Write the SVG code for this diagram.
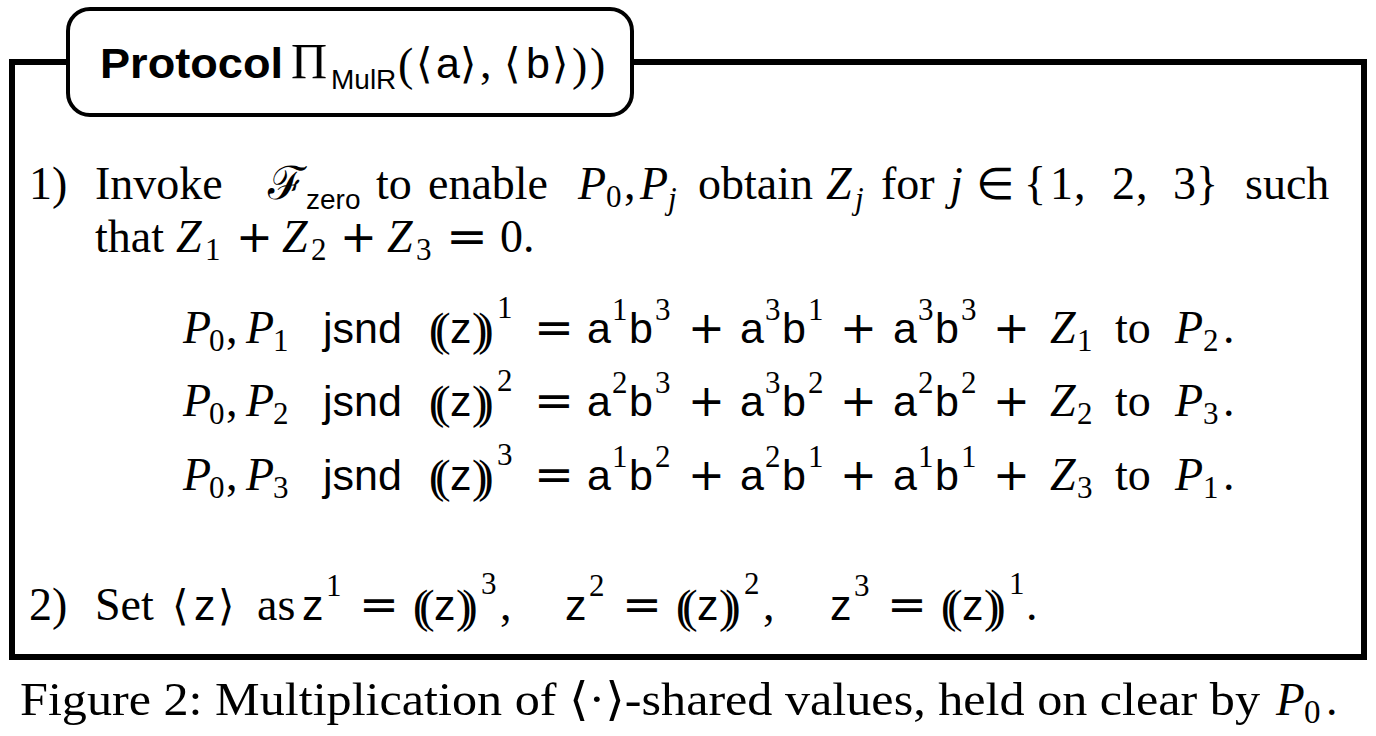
<svg xmlns="http://www.w3.org/2000/svg" width="1376" height="736" viewBox="0 0 1376 736">
<style>
text{fill:#000}
.rm{font-family:"Liberation Serif","DejaVu Serif",serif;font-size:46px}
.mi{font-family:"Liberation Serif","DejaVu Serif",serif;font-style:italic;font-size:46px}
.sf{font-family:"Liberation Sans","DejaVu Sans",sans-serif;font-size:43px}
.sfs{font-family:"Liberation Sans","DejaVu Sans",sans-serif;font-size:28px}
.sb{font-family:"Liberation Serif","DejaVu Serif",serif;font-size:31px}
.sbi{font-family:"Liberation Serif","DejaVu Serif",serif;font-style:italic;font-size:31px}
.op{font-family:"DejaVu Sans",sans-serif;font-size:44px}
.br{font-family:"DejaVu Serif",serif;font-size:42px}
.pp{font-family:"Liberation Serif","DejaVu Serif",serif;font-size:46px}
.dp{font-family:"Liberation Serif","DejaVu Serif",serif;font-size:46px;letter-spacing:-9px}
.frame{fill:none;stroke:#000;stroke-width:6}
</style>
<rect width="1376" height="736" fill="#fff"/>
<g id="frame">
<path class="frame" d="M68,62 H12 V657 H1364 V62 H632"/>
</g>
<g id="title">
<rect x="68" y="9" width="564" height="106" rx="22" ry="22" fill="#fff" stroke="#000" stroke-width="4"/>
<text x="100" y="78" font-family="Liberation Sans, Arial, sans-serif" font-weight="bold" font-size="42" textLength="183" lengthAdjust="spacingAndGlyphs">Protocol</text>
<text x="291" y="78" class="rm" style="font-size:50px">Π</text>
<text x="331" y="89" class="sfs">MulR</text>
<text x="398" y="80" class="pp">(</text>
<text x="416" y="78" class="br">⟨</text>
<text x="436" y="78" class="sf">a</text>
<text x="460" y="78" class="br">⟩</text>
<text x="480" y="78" class="rm">,</text>
<text x="504" y="78" class="br">⟨</text>
<text x="526" y="78" class="sf">b</text>
<text x="552" y="78" class="br">⟩</text>
<text x="572" y="80" class="pp">)</text>
<text x="590" y="80" class="pp">)</text>
</g>
<g id="step1">
<text x="29" y="199" class="rm">1)</text>
<text x="95" y="199" class="rm">Invoke</text>
<text x="268" y="199" class="br" style="font-size:46px">ℱ</text>
<text x="306" y="209" class="sfs">zero</text>
<text x="376" y="199" class="rm">to</text>
<text x="428" y="199" class="rm">enable</text>
<text x="578" y="199" class="mi">P</text><text x="606" y="207" class="sb">0</text>
<text x="624" y="199" class="rm">,</text>
<text x="640" y="199" class="mi">P</text><text x="668" y="209" class="sbi">j</text>
<text x="698" y="199" class="rm">obtain</text>
<text x="826" y="199" class="mi">Z</text><text x="855" y="209" class="sbi">j</text>
<text x="881" y="199" class="rm">for</text>
<text x="950" y="199" class="mi">j</text>
<text x="976" y="199" class="op">∈</text>
<text x="1024" y="199" class="rm">{</text>
<text x="1050" y="199" class="rm">1</text>
<text x="1074" y="199" class="rm">,</text>
<text x="1112" y="199" class="rm">2</text>
<text x="1136" y="199" class="rm">,</text>
<text x="1173" y="199" class="rm">3</text>
<text x="1196" y="199" class="rm">}</text>
<text x="1245" y="199" class="rm">such</text>
<text x="95" y="252" class="rm">that</text>
<text x="176" y="252" class="mi">Z</text><text x="205" y="260" class="sb">1</text>
<text x="236" y="252" class="op">+</text>
<text x="282" y="252" class="mi">Z</text><text x="311" y="260" class="sb">2</text>
<text x="340" y="252" class="op">+</text>
<text x="387" y="252" class="mi">Z</text><text x="416" y="260" class="sb">3</text>
<text x="446" y="252" class="op" textLength="42" lengthAdjust="spacingAndGlyphs">=</text>
<text x="500" y="252" class="rm">0.</text>
</g>
<g id="eq1">
<text x="183" y="343" class="mi">P</text><text x="209" y="351" class="sb">0</text>
<text x="226" y="343" class="rm">,</text>
<text x="246" y="343" class="mi">P</text><text x="273" y="351" class="sb">1</text>
<text x="323" y="343" class="sf">jsnd</text>
<text x="429" y="345" class="dp">((</text><text x="450" y="343" class="sf">z</text><text x="472" y="345" class="dp">))</text><text x="497" y="318" class="sb">1</text>
<text x="534" y="343" class="op" textLength="40" lengthAdjust="spacingAndGlyphs">=</text>
<text x="587" y="343" class="sf">a</text><text x="612" y="320" class="sb">1</text><text x="629" y="343" class="sf">b</text><text x="655" y="320" class="sb">3</text>
<text x="688" y="343" class="op">+</text>
<text x="740" y="343" class="sf">a</text><text x="765" y="320" class="sb">3</text><text x="782" y="343" class="sf">b</text><text x="808" y="320" class="sb">1</text>
<text x="840" y="343" class="op">+</text>
<text x="893" y="343" class="sf">a</text><text x="918" y="320" class="sb">3</text><text x="935" y="343" class="sf">b</text><text x="961" y="320" class="sb">3</text>
<text x="993" y="343" class="op">+</text>
<text x="1050" y="343" class="mi">Z</text><text x="1077" y="351" class="sb">1</text>
<text x="1115" y="343" class="rm">to</text>
<text x="1175" y="343" class="mi">P</text><text x="1203" y="351" class="sb">2</text>
<text x="1223" y="343" class="rm">.</text>
</g>
<g id="eq2">
<text x="183" y="416" class="mi">P</text><text x="209" y="424" class="sb">0</text>
<text x="226" y="416" class="rm">,</text>
<text x="246" y="416" class="mi">P</text><text x="273" y="424" class="sb">2</text>
<text x="323" y="416" class="sf">jsnd</text>
<text x="429" y="418" class="dp">((</text><text x="450" y="416" class="sf">z</text><text x="472" y="418" class="dp">))</text><text x="497" y="391" class="sb">2</text>
<text x="534" y="416" class="op" textLength="40" lengthAdjust="spacingAndGlyphs">=</text>
<text x="587" y="416" class="sf">a</text><text x="612" y="393" class="sb">2</text><text x="629" y="416" class="sf">b</text><text x="655" y="393" class="sb">3</text>
<text x="688" y="416" class="op">+</text>
<text x="740" y="416" class="sf">a</text><text x="765" y="393" class="sb">3</text><text x="782" y="416" class="sf">b</text><text x="808" y="393" class="sb">2</text>
<text x="840" y="416" class="op">+</text>
<text x="893" y="416" class="sf">a</text><text x="918" y="393" class="sb">2</text><text x="935" y="416" class="sf">b</text><text x="961" y="393" class="sb">2</text>
<text x="993" y="416" class="op">+</text>
<text x="1050" y="416" class="mi">Z</text><text x="1077" y="424" class="sb">2</text>
<text x="1115" y="416" class="rm">to</text>
<text x="1175" y="416" class="mi">P</text><text x="1203" y="424" class="sb">3</text>
<text x="1223" y="416" class="rm">.</text>
</g>
<g id="eq3">
<text x="183" y="490" class="mi">P</text><text x="209" y="498" class="sb">0</text>
<text x="226" y="490" class="rm">,</text>
<text x="246" y="490" class="mi">P</text><text x="273" y="498" class="sb">3</text>
<text x="323" y="490" class="sf">jsnd</text>
<text x="429" y="492" class="dp">((</text><text x="450" y="490" class="sf">z</text><text x="472" y="492" class="dp">))</text><text x="497" y="465" class="sb">3</text>
<text x="534" y="490" class="op" textLength="40" lengthAdjust="spacingAndGlyphs">=</text>
<text x="587" y="490" class="sf">a</text><text x="612" y="467" class="sb">1</text><text x="629" y="490" class="sf">b</text><text x="655" y="467" class="sb">2</text>
<text x="688" y="490" class="op">+</text>
<text x="740" y="490" class="sf">a</text><text x="765" y="467" class="sb">2</text><text x="782" y="490" class="sf">b</text><text x="808" y="467" class="sb">1</text>
<text x="840" y="490" class="op">+</text>
<text x="893" y="490" class="sf">a</text><text x="918" y="467" class="sb">1</text><text x="935" y="490" class="sf">b</text><text x="961" y="467" class="sb">1</text>
<text x="993" y="490" class="op">+</text>
<text x="1050" y="490" class="mi">Z</text><text x="1077" y="498" class="sb">3</text>
<text x="1115" y="490" class="rm">to</text>
<text x="1175" y="490" class="mi">P</text><text x="1203" y="498" class="sb">1</text>
<text x="1223" y="490" class="rm">.</text>
</g>
<g id="step2">
<text x="29" y="620" class="rm">2)</text>
<text x="95" y="620" class="rm">Set</text>
<text x="172" y="620" class="br">⟨</text><text x="194" y="620" class="sf">z</text><text x="218" y="620" class="br">⟩</text>
<text x="257" y="620" class="rm">as</text>
<text x="302" y="620" class="sf">z</text><text x="326" y="596" class="sb">1</text>
<text x="359" y="620" class="op" textLength="40" lengthAdjust="spacingAndGlyphs">=</text>
<text x="413" y="622" class="dp">((</text><text x="434" y="620" class="sf">z</text><text x="456" y="622" class="dp">))</text><text x="481" y="594" class="sb">3</text>
<text x="500" y="620" class="rm">,</text>
<text x="565" y="620" class="sf">z</text><text x="589" y="596" class="sb">2</text>
<text x="622" y="620" class="op" textLength="40" lengthAdjust="spacingAndGlyphs">=</text>
<text x="676" y="622" class="dp">((</text><text x="697" y="620" class="sf">z</text><text x="719" y="622" class="dp">))</text><text x="744" y="594" class="sb">2</text>
<text x="763" y="620" class="rm">,</text>
<text x="830" y="620" class="sf">z</text><text x="854" y="596" class="sb">3</text>
<text x="887" y="620" class="op" textLength="40" lengthAdjust="spacingAndGlyphs">=</text>
<text x="941" y="622" class="dp">((</text><text x="962" y="620" class="sf">z</text><text x="984" y="622" class="dp">))</text><text x="1009" y="594" class="sb">1</text>
<text x="1026" y="620" class="rm">.</text>
</g>
<g id="caption">
<text x="20" y="715" class="rm" textLength="1240" lengthAdjust="spacingAndGlyphs">Figure 2: Multiplication of ⟨·⟩-shared values, held on clear by</text>
<text x="1276" y="715" class="mi" style="font-size:47px">P</text><text x="1304" y="723" class="sb" style="font-size:33px">0</text><text x="1326" y="715" class="rm">.</text>
</g>
</svg>
